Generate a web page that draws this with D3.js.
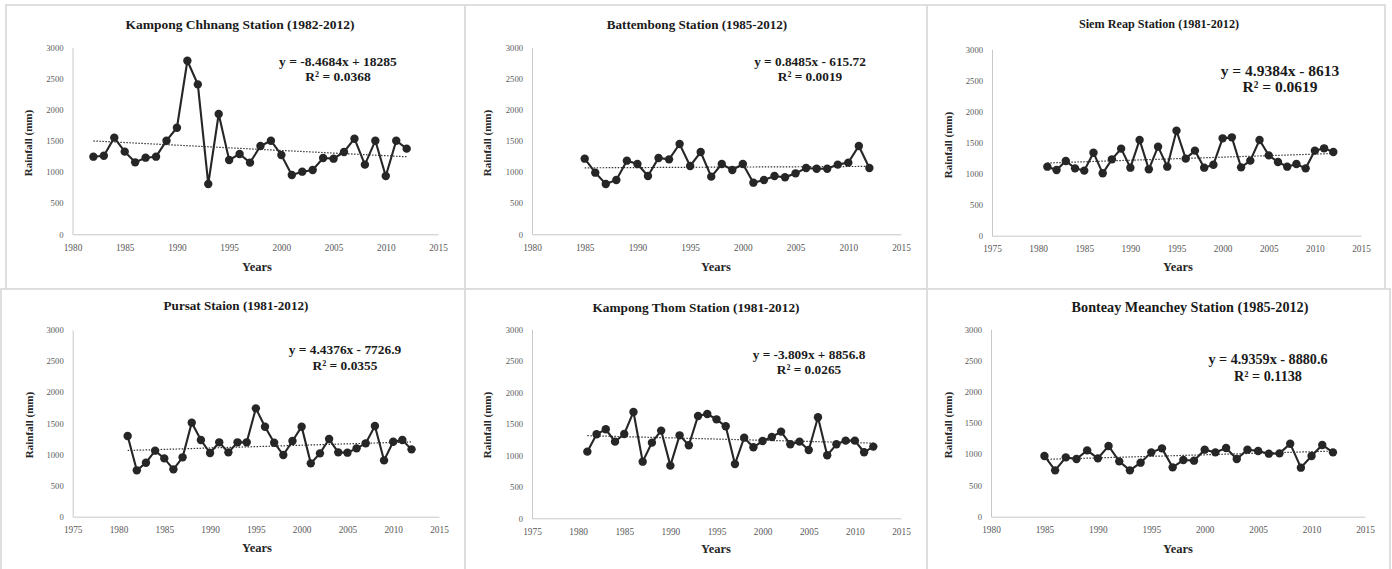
<!DOCTYPE html>
<html>
<head>
<meta charset="utf-8">
<script src="https://cdn.jsdelivr.net/npm/d3@7"></script>
<style>
  html, body { margin: 0; padding: 0; background: #fff; }
  svg { display: block; }
</style>
</head>
<body>
<svg id="chart" width="1392" height="569"></svg>
<script>
// Annual rainfall (mm) per station
const kampongChhnangYears = d3.range(1982, 2013);
const kampongChhnang = [1248, 1264, 1554, 1329, 1157, 1232, 1248, 1505, 1714, 2790, 2410, 809, 1934, 1195, 1291,
  1152, 1420, 1505, 1275, 954, 1007, 1034, 1227, 1216, 1323, 1537, 1120, 1505, 937, 1505, 1377];

const battembongYears = d3.range(1985, 2013);
const battembong = [1216, 991, 809, 873, 1184, 1130, 937, 1227, 1205, 1452, 1098, 1323, 927, 1130, 1034, 1130,
  830, 873, 937, 916, 980, 1066, 1055, 1055, 1120, 1152, 1420, 1066];

const siemReapYears = d3.range(1981, 2013);
const siemReap = [1111, 1057, 1202, 1084, 1047, 1336, 1004, 1229, 1401, 1095, 1540, 1068, 1433, 1111, 1691, 1240,
  1369, 1095, 1143, 1567, 1583, 1100, 1208, 1540, 1293, 1186, 1111, 1154, 1084, 1369, 1406, 1347];

const pursatYears = d3.range(1981, 2013);
const pursat = [1296, 745, 868, 1061, 937, 761, 954, 1511, 1232, 1023, 1195, 1034, 1195, 1195, 1741, 1446,
  1189, 991, 1216, 1446, 857, 1018, 1248, 1034, 1029, 1098, 1179, 1457, 905, 1205, 1232, 1082];

const kampongThomYears = d3.range(1981, 2013);
const kampongThom = [1058, 1333, 1413, 1217, 1339, 1688, 899, 1201, 1392, 836, 1317, 1159, 1624, 1656, 1571, 1460,
  862, 1280, 1127, 1228, 1291, 1376, 1175, 1217, 1085, 1603, 1000, 1175, 1233, 1233, 1048, 1138];

const bonteayMeancheyYears = d3.range(1985, 2013);
const bonteayMeanchey = [972, 742, 950, 924, 1062, 934, 1132, 886, 742, 865, 1030, 1094, 790, 907, 897, 1073,
  1030, 1100, 923, 1073, 1052, 1009, 1014, 1169, 785, 972, 1148, 1030];

// Chart titles
const stationTitles = [
  "Kampong Chhnang Station (1982-2012)",
  "Battembong Station (1985-2012)",
  "Siem Reap Station (1981-2012)",
  "Pursat Staion (1981-2012)",
  "Kampong Thom Station (1981-2012)",
  "Bonteay Meanchey Station (1985-2012)"
];

// Linear trend coefficients (y = slope * year + intercept) and fit quality
const trendSlopes = [-8.4684, 0.8485, 4.9384, 4.4376, -3.809, 4.9359];
const trendIntercepts = [18285, -615.72, -8613, -7726.9, 8856.8, -8880.6];
const trendEquations = [
  "y = -8.4684x + 18285",
  "y = 0.8485x - 615.72",
  "y = 4.9384x - 8613",
  "y = 4.4376x - 7726.9",
  "y = -3.809x + 8856.8",
  "y = 4.9359x - 8880.6"
];
const trendR2 = ["R² = 0.0368", "R² = 0.0019", "R² = 0.0619", "R² = 0.0355", "R² = 0.0265", "R² = 0.1138"];

// Axis settings
const xDomainStarts = [1980, 1980, 1975, 1975, 1975, 1980];
const xDomainEnd = 2015;
const rainfallTicks = [0, 500, 1000, 1500, 2000, 2500, 3000];

const seriesYears = [kampongChhnangYears, battembongYears, siemReapYears, pursatYears, kampongThomYears, bonteayMeancheyYears];
const seriesValues = [kampongChhnang, battembong, siemReap, pursat, kampongThom, bonteayMeanchey];

// Panel frames, plot areas, label anchors and text sizes
const layout = [
  { frame: [6, 5, 459, 284], plot: [72.5, 438, 47.7, 234.3], title: [240, 29], eq: [338, 66], r2: [338, 81], years: [257, 271], ylab: [28, 143], tSize: 13.5, eSize: 13.5 },
  { frame: [465, 5, 462, 284], plot: [532, 901, 47.7, 234.3], title: [697, 29], eq: [810, 66], r2: [810, 81], years: [716, 271], ylab: [487, 143], tSize: 13.1, eSize: 13.3 },
  { frame: [927, 5, 458, 284], plot: [992, 1361, 49.3, 235.7], title: [1159, 28], eq: [1280, 76], r2: [1280, 92], years: [1178, 271], ylab: [948, 145], tSize: 12.2, eSize: 15.5 },
  { frame: [1, 289, 464, 282], plot: [72.7, 439, 330, 516.7], title: [236, 310], eq: [345, 354], r2: [345, 370], years: [257, 552], ylab: [29, 425], tSize: 13.1, eSize: 13.4 },
  { frame: [465, 289, 462, 282], plot: [532, 901, 329.3, 518.3], title: [696, 312], eq: [809, 359], r2: [809, 374], years: [716, 553], ylab: [487, 425], tSize: 13.3, eSize: 13.3 },
  { frame: [927, 289, 463, 282], plot: [991, 1365, 329.3, 516.7], title: [1190, 312], eq: [1268, 364], r2: [1268, 381], years: [1178, 553], ylab: [948, 425], tSize: 14.2, eSize: 14.2 }
];

const svg = d3.select("#chart");
const serif = "'Liberation Serif', 'Times New Roman', serif";

layout.forEach((L, i) => {
  const g = svg.append("g");

  g.append("rect")
    .attr("x", L.frame[0]).attr("y", L.frame[1])
    .attr("width", L.frame[2]).attr("height", L.frame[3])
    .attr("fill", "#fff").attr("stroke", "#dcdcdc").attr("stroke-width", 1.8);

  const [left, right, top, bottom] = L.plot;
  const x = d3.scaleLinear().domain([xDomainStarts[i], xDomainEnd]).range([left, right]);
  const y = d3.scaleLinear().domain([0, 3000]).range([bottom, top]);

  // Axes
  const xAxis = g.append("g").attr("transform", `translate(0,${bottom})`)
    .call(d3.axisBottom(x).ticks(7).tickFormat(d3.format("d")).tickSize(0).tickPadding(10));
  const yAxis = g.append("g").attr("transform", `translate(${left},0)`)
    .call(d3.axisLeft(y).tickValues(rainfallTicks).tickFormat(d3.format("d")).tickSize(0).tickPadding(9));
  [xAxis, yAxis].forEach(a => {
    a.select(".domain").attr("stroke", "#c8c8c8").attr("stroke-width", 1);
    a.selectAll("text").attr("font-family", serif).attr("fill", "#595959");
  });
  xAxis.selectAll("text").attr("font-size", 9.3);
  yAxis.selectAll("text").attr("font-size", 8.6);

  // Trend line over the observation period
  const yrs = seriesYears[i];
  const vals = seriesValues[i];
  const ends = [yrs[0], yrs[yrs.length - 1]];
  g.append("line")
    .attr("x1", x(ends[0])).attr("y1", y(trendSlopes[i] * ends[0] + trendIntercepts[i]))
    .attr("x2", x(ends[1])).attr("y2", y(trendSlopes[i] * ends[1] + trendIntercepts[i]))
    .attr("stroke", "#333").attr("stroke-width", 1.2).attr("stroke-dasharray", "1.5,1.5");

  // Rainfall series
  const pts = yrs.map((yr, k) => [yr, vals[k]]);
  g.append("path")
    .datum(pts)
    .attr("fill", "none").attr("stroke", "#262626").attr("stroke-width", 2.1)
    .attr("d", d3.line().x(d => x(d[0])).y(d => y(d[1])));
  g.selectAll("circle.pt").data(pts).join("circle")
    .attr("class", "pt")
    .attr("cx", d => x(d[0])).attr("cy", d => y(d[1])).attr("r", 4.2)
    .attr("fill", "#262626");

  // Labels
  g.append("text").attr("x", L.title[0]).attr("y", L.title[1])
    .attr("text-anchor", "middle").attr("font-family", serif).attr("font-weight", "bold")
    .attr("font-size", L.tSize).attr("fill", "#1a1a1a").text(stationTitles[i]);

  g.append("text").attr("x", L.eq[0]).attr("y", L.eq[1])
    .attr("text-anchor", "middle").attr("font-family", serif).attr("font-weight", "bold")
    .attr("font-size", L.eSize).attr("fill", "#1a1a1a").text(trendEquations[i]);
  g.append("text").attr("x", L.r2[0]).attr("y", L.r2[1])
    .attr("text-anchor", "middle").attr("font-family", serif).attr("font-weight", "bold")
    .attr("font-size", L.eSize).attr("fill", "#1a1a1a").text(trendR2[i]);

  g.append("text").attr("x", L.years[0]).attr("y", L.years[1])
    .attr("text-anchor", "middle").attr("font-family", serif).attr("font-weight", "bold")
    .attr("font-size", 12.5).attr("fill", "#262626").text("Years");

  g.append("text")
    .attr("transform", `translate(${L.ylab[0]},${L.ylab[1]}) rotate(-90)`)
    .attr("text-anchor", "middle").attr("dominant-baseline", "central")
    .attr("font-family", serif).attr("font-weight", "bold")
    .attr("font-size", 11).attr("fill", "#262626").text("Rainfall (mm)");
});
</script>
</body>
</html>
